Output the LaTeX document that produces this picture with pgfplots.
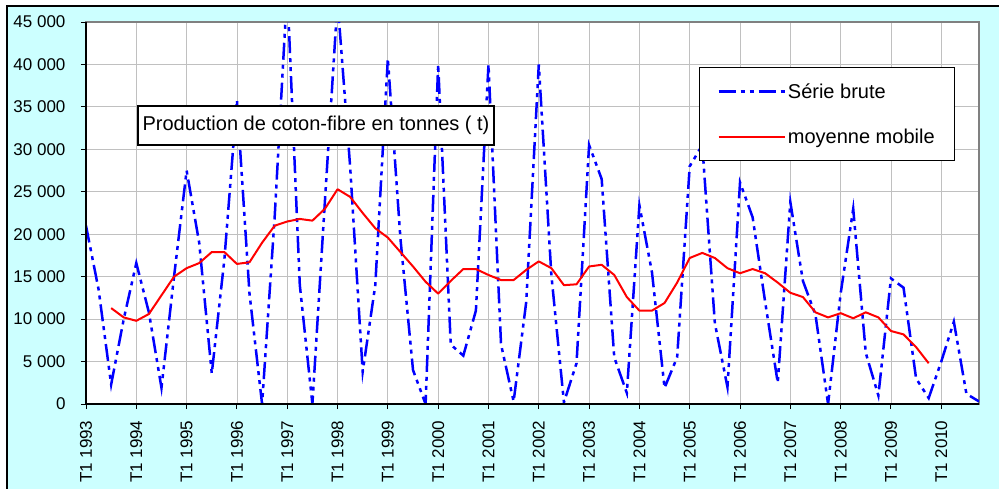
\documentclass[border=0pt]{standalone}
\usepackage{fontspec}
\setmainfont{Liberation Sans}
\usepackage{pgfplots}
\pgfplotsset{compat=1.18}
\usepackage{pgfplotstable}

\definecolor{fondcyan}{RGB}{204,255,255}
\definecolor{grille}{RGB}{192,192,192}
\definecolor{cadre}{RGB}{128,128,128}

% trimestres : 0 = T1 1993, 71 = T4 2010
\pgfplotstableread{
q val
0 21000
1 13500
2 2300
3 10000
4 16600
5 10800
6 1900
7 15000
8 27500
9 19000
10 3600
11 17000
12 35800
13 13000
14 0
15 22000
16 49000
17 14000
18 0
19 24000
20 47500
21 28000
22 3800
23 14000
24 40700
25 19500
26 4000
27 0
28 40000
29 7000
30 5700
31 11000
32 40000
33 7000
34 300
35 12000
36 40000
37 15200
38 200
39 4800
40 30500
41 26500
42 5500
43 1300
44 23400
45 15500
46 1900
47 5500
48 28000
49 30500
50 9500
51 2000
52 26100
53 22000
54 12000
55 2500
56 23800
57 14500
58 10500
59 0
60 13000
61 23000
62 6000
63 1000
64 14800
65 13700
66 3000
67 700
68 5000
69 9700
70 1200
71 300
}\brute

\pgfplotstableread{
q val
2 11300
3 10200
4 9800
5 10600
6 12800
7 15000
8 16000
9 16600
10 17900
11 17900
12 16500
13 16700
14 19000
15 21000
16 21500
17 21800
18 21600
19 23000
20 25300
21 24400
22 22500
23 20700
24 19600
25 17900
26 16200
27 14400
28 13000
29 14500
30 15900
31 15900
32 15200
33 14600
34 14600
35 15800
36 16800
37 16000
38 14000
39 14100
40 16200
41 16400
42 15200
43 12600
44 11000
45 11000
46 11900
47 14300
48 17200
49 17800
50 17200
51 16000
52 15400
53 15900
54 15400
55 14300
56 13100
57 12600
58 10800
59 10200
60 10700
61 10100
62 10800
63 10200
64 8600
65 8200
66 6700
67 4800
}\moyenne

\begin{document}
\begin{tikzpicture}
\useasboundingbox (0pt,0pt) rectangle (999pt,-489pt);
\fill[fondcyan] (7pt,-6pt) rectangle (999pt,-489pt);
\draw[black, line width=1.5pt] (7pt,-489pt) -- (7pt,-6pt) -- (999pt,-6pt);

\begin{axis}[
  at={(86pt,-404pt)}, anchor=south west,
  scale only axis, width=893pt, height=382pt,
  xmin=0, xmax=71, ymin=0, ymax=45000,
  axis background/.style={fill=white},
  ytick={0,5000,...,45000},
  scaled y ticks=false,
  yticklabel style={xshift=-12pt, /pgf/number format/.cd, fixed, 1000 sep={\ }, assume math mode=true},
  xtick={0,4,...,68},
  xticklabels={T1 1993,T1 1994,T1 1995,T1 1996,T1 1997,T1 1998,T1 1999,T1 2000,T1 2001,T1 2002,T1 2003,T1 2004,T1 2005,T1 2006,T1 2007,T1 2008,T1 2009,T1 2010},
  xticklabel style={rotate=90, anchor=east, xshift=-8pt},
  tick pos=left,
  tick align=outside,
  major tick length=5pt,
  tick style={black, line width=1pt},
  grid=major,
  grid style={grille, line width=0.8pt},
  axis line style={cadre, line width=1.5pt},
  tick label style={font=\fontsize{17}{20}\selectfont},
  legend style={at={(0.6865,0.882)}, anchor=north west, draw=black, line width=0.8pt, fill=white,
    font=\fontsize{20}{24}\selectfont, inner xsep=18pt, inner ysep=14pt, row sep=25pt},
  legend cell align=left,
  legend image code/.code={\draw[#1] (0pt,0pt) -- (66pt,0pt);},
]
\addplot[blue, line width=2.5pt, dash pattern=on 17pt off 5pt on 4pt off 5pt on 4pt off 5pt]
  table[x=q, y=val]{\brute};
\addplot[red, line width=2pt, line join=round] table[x=q, y=val]{\moyenne};
\legend{Série brute, moyenne mobile}
\end{axis}

\draw[black, line width=2pt] (86pt,-22pt) -- (86pt,-404pt) -- (979pt,-404pt);
\node[draw=black, line width=1.5pt, fill=white, minimum width=356pt, minimum height=39pt,
  inner sep=0pt, font=\fontsize{20}{24}\selectfont] at (316pt,-125.5pt)
  {Production de coton-fibre en tonnes ( t)};
\end{tikzpicture}
\end{document}
